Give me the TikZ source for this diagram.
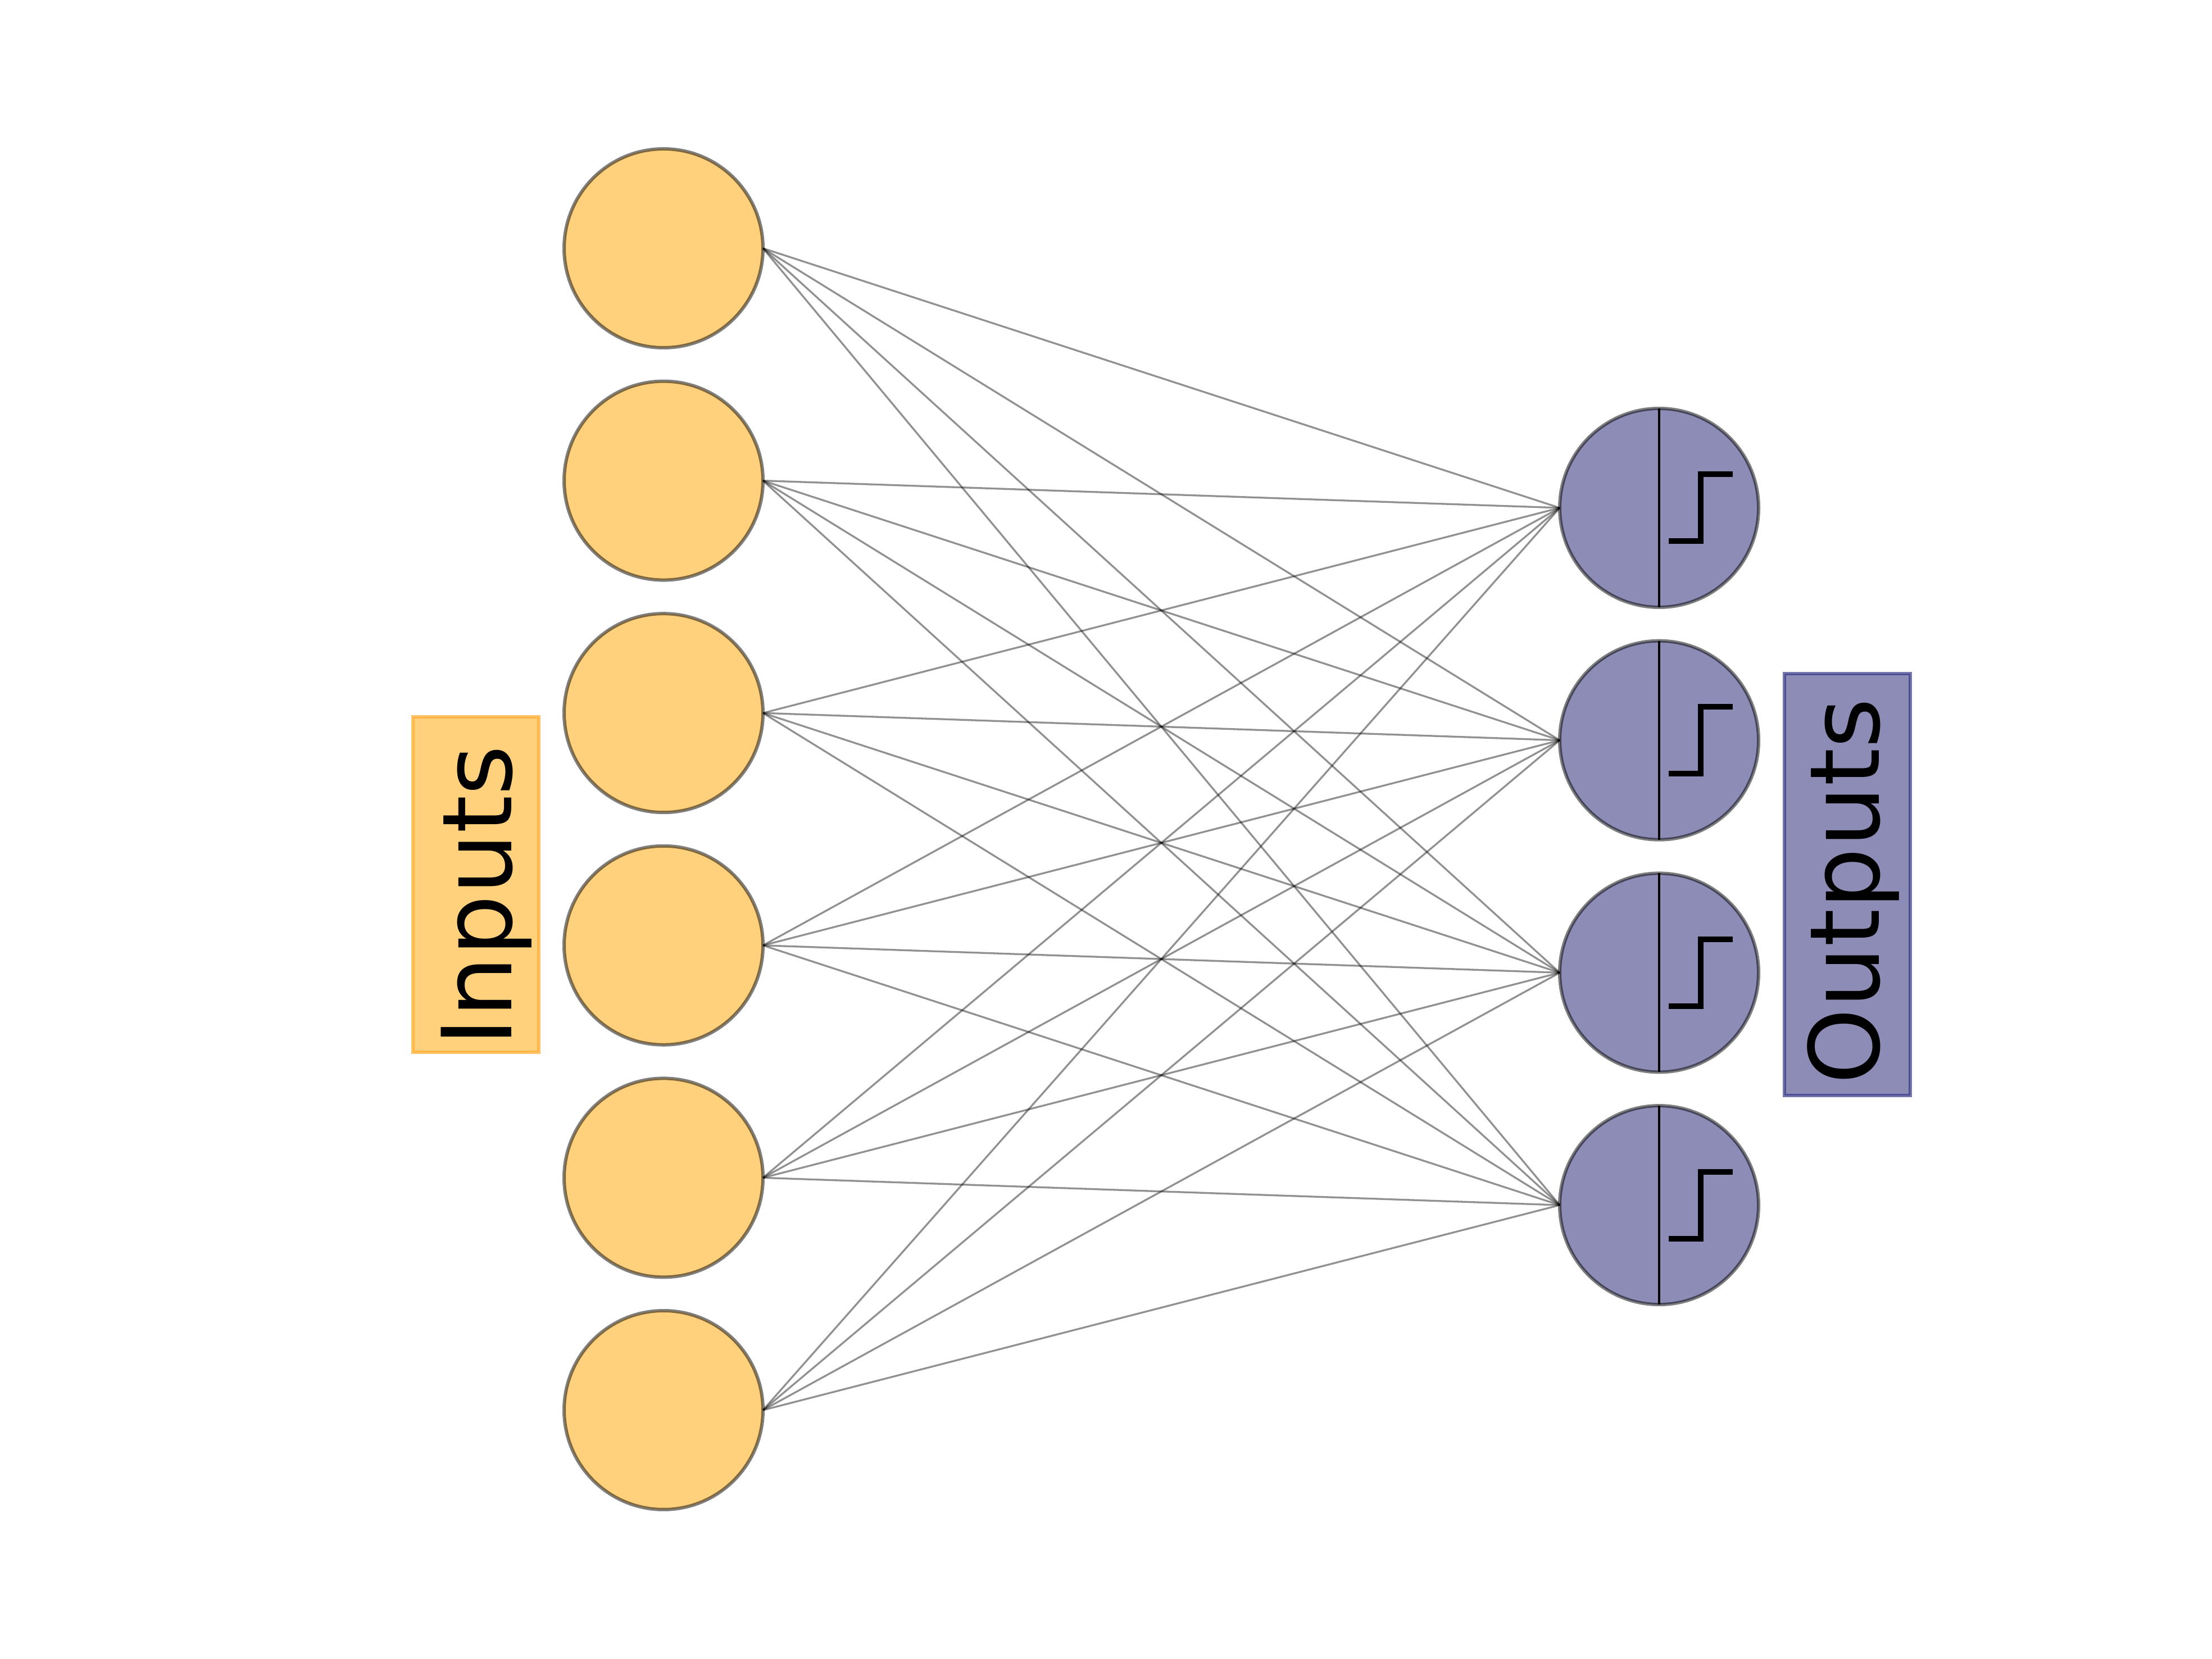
\documentclass[tikz,border=0pt]{standalone}
\usepackage{fontspec}
\setmainfont{DejaVu Sans}
\usepackage{tikz}
\usetikzlibrary{positioning}
\definecolor{inputfill}{RGB}{255,209,125}
\definecolor{inputedge}{RGB}{255,173,51}
\definecolor{outputfill}{RGB}{140,140,182}
\definecolor{outputedge}{RGB}{45,45,130}

\begin{document}
\begin{tikzpicture}[
    inputnode/.style={circle, fill=inputfill, draw=black, draw opacity=0.5, line width=0.06cm, minimum size=3.54cm, inner sep=0pt, outer sep=0pt},
    outputnode/.style={circle, fill=outputfill, draw=black, draw opacity=0.5, line width=0.06cm, minimum size=3.54cm, inner sep=0pt, outer sep=0pt},
    inputbox/.style={rectangle, fill=inputfill, draw=inputedge, draw opacity=0.75, line width=0.06cm, inner sep=0pt, outer sep=0pt},
    outputbox/.style={rectangle, fill=outputfill, draw=outputedge, draw opacity=0.65, line width=0.06cm, inner sep=0pt, outer sep=0pt},
    boxlabel/.style={rotate=90, anchor=base west, inner sep=0pt, text=black, font=\fontsize{49pt}{49pt}\selectfont},
    edge/.style={draw=black, draw opacity=0.43, line width=0.033cm},
    divider/.style={draw=black, line width=0.033cm},
    stepline/.style={draw=black, line width=0.1cm}
]
\useasboundingbox (0,0) rectangle (39.37,29.52);

% Input layer
\node[inputnode] (in0) at (11.81,25.10) {};
\node[inputnode, below=0.596cm of in0] (in1) {};
\node[inputnode, below=0.596cm of in1] (in2) {};
\node[inputnode, below=0.596cm of in2] (in3) {};
\node[inputnode, below=0.596cm of in3] (in4) {};
\node[inputnode, below=0.596cm of in4] (in5) {};

% Output layer
\node[outputnode] (out0) at (29.53,20.48) {};
\node[outputnode, below=0.597cm of out0] (out1) {};
\node[outputnode, below=0.597cm of out1] (out2) {};
\node[outputnode, below=0.597cm of out2] (out3) {};

% Boxes
\node[inputbox, minimum width=2.24cm, minimum height=5.97cm] (inbox) at (8.47,13.775) {};
\node[boxlabel] (inlabel) at (9.10,10.89) {Inputs};
\node[outputbox, minimum width=2.24cm, minimum height=7.51cm] (outbox) at (32.88,13.775) {};
\node[boxlabel] (outlabel) at (33.44,10.21) {Outputs};

% Edges
\draw[edge] (in0.east) -- (out0.west);
\draw[edge] (in0.east) -- (out1.west);
\draw[edge] (in0.east) -- (out2.west);
\draw[edge] (in0.east) -- (out3.west);
\draw[edge] (in1.east) -- (out0.west);
\draw[edge] (in1.east) -- (out1.west);
\draw[edge] (in1.east) -- (out2.west);
\draw[edge] (in1.east) -- (out3.west);
\draw[edge] (in2.east) -- (out0.west);
\draw[edge] (in2.east) -- (out1.west);
\draw[edge] (in2.east) -- (out2.west);
\draw[edge] (in2.east) -- (out3.west);
\draw[edge] (in3.east) -- (out0.west);
\draw[edge] (in3.east) -- (out1.west);
\draw[edge] (in3.east) -- (out2.west);
\draw[edge] (in3.east) -- (out3.west);
\draw[edge] (in4.east) -- (out0.west);
\draw[edge] (in4.east) -- (out1.west);
\draw[edge] (in4.east) -- (out2.west);
\draw[edge] (in4.east) -- (out3.west);
\draw[edge] (in5.east) -- (out0.west);
\draw[edge] (in5.east) -- (out1.west);
\draw[edge] (in5.east) -- (out2.west);
\draw[edge] (in5.east) -- (out3.west);

% Step symbols
\draw[divider] (out0.north) -- (out0.south);
\draw[divider] (out1.north) -- (out1.south);
\draw[divider] (out2.north) -- (out2.south);
\draw[divider] (out3.north) -- (out3.south);
\draw[stepline] ([shift={(0.17,-0.595)}]out0.center) -- ++(0.57,0) -- ++(0,1.19) -- ++(0.57,0);
\draw[stepline] ([shift={(0.17,-0.595)}]out1.center) -- ++(0.57,0) -- ++(0,1.19) -- ++(0.57,0);
\draw[stepline] ([shift={(0.17,-0.595)}]out2.center) -- ++(0.57,0) -- ++(0,1.19) -- ++(0.57,0);
\draw[stepline] ([shift={(0.17,-0.595)}]out3.center) -- ++(0.57,0) -- ++(0,1.19) -- ++(0.57,0);

\end{tikzpicture}
\end{document}
